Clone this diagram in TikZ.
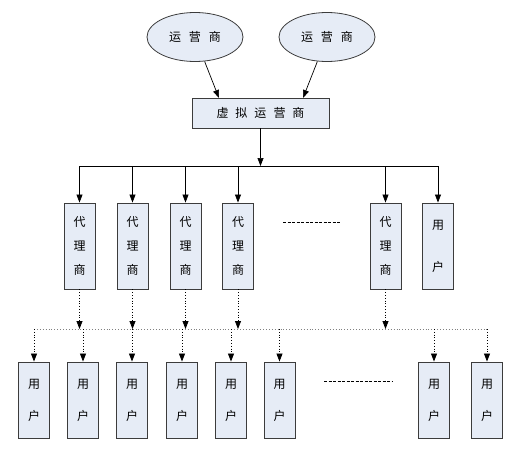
\documentclass[tikz,border=0pt]{standalone}
\usepackage{fontspec}
\setmainfont{Noto Sans CJK SC}
\usetikzlibrary{shapes.geometric,arrows.meta}
\definecolor{boxfill}{HTML}{E6ECF6}
\definecolor{boxdraw}{HTML}{3C3C3C}
\tikzset{
  opnode/.style={ellipse,draw=boxdraw,fill=boxfill,line width=0.8pt,minimum width=96pt,minimum height=49pt,inner sep=0pt,font=\fontsize{12}{14}\selectfont},
  vbox/.style={rectangle,draw=boxdraw,fill=boxfill,line width=0.9pt,minimum width=31pt,minimum height=86pt,inner sep=0pt,align=center,font=\fontsize{12}{14}\selectfont},
  ubox/.style={rectangle,draw=boxdraw,fill=boxfill,line width=0.9pt,minimum width=31pt,minimum height=76pt,inner sep=0pt,align=center,font=\fontsize{12}{14}\selectfont},
  hbox/.style={rectangle,draw=boxdraw,fill=boxfill,line width=0.9pt,minimum width=137pt,minimum height=30pt,inner sep=0pt,font=\fontsize{12}{14}\selectfont},
  solidarrow/.style={draw=black,line width=0.7pt,-{Triangle[length=8pt,width=6pt]}},
  solidline/.style={draw=black,line width=0.7pt},
  dotarrow/.style={draw=black,line width=0.8pt,dotted,-{Triangle[length=8pt,width=6pt]}},
  dotline/.style={draw=gray,line width=0.9pt,dotted},
  dashline/.style={draw=black,line width=0.7pt,dashed,dash pattern=on 3pt off 1.5pt},
}
\begin{document}
\begin{tikzpicture}[x=1pt,y=-1pt]
\useasboundingbox (0,0) rectangle (520,450);
% top
\node[opnode] (op1) at (195,37) {运\hspace{8pt}营\hspace{8pt}商};
\node[opnode] (op2) at (327,37) {运\hspace{8pt}营\hspace{8pt}商};
\node[hbox] (vop) at (260.5,113) {虚\hspace{7pt}拟\hspace{7pt}运\hspace{7pt}营\hspace{7pt}商};
\draw[solidarrow] (op1) -- (219,98);
\draw[solidarrow] (op2) -- (303,98);
% agents
\node[vbox] (a1) at (79.5,246) {代\\[10pt]理\\[10pt]商};
\node[vbox] (a2) at (132.5,246) {代\\[10pt]理\\[10pt]商};
\node[vbox] (a3) at (185.5,246) {代\\[10pt]理\\[10pt]商};
\node[vbox] (a4) at (238,246) {代\\[10pt]理\\[10pt]商};
\node[vbox] (a5) at (385.5,246) {代\\[10pt]理\\[10pt]商};
\node[vbox] (u0) at (438,246) {用\\[28pt]户};
% bus 1
\coordinate (b1) at (260.5,166);
\draw[solidarrow] (vop.south) -- (b1);
\draw[solidline] (a1.north |- b1) -- (u0.north |- b1);
\foreach \n in {a1,a2,a3,a4,a5,u0}{
  \draw[solidarrow] (\n.north |- b1) -- (\n.north);
}
\coordinate (d1a) at (283,222);
\coordinate (d1b) at (340,222);
\draw[dashline] (d1a) -- (d1b);
% users
\node[ubox] (u1) at (34,400) {用\\[18pt]户};
\node[ubox] (u2) at (83,400) {用\\[18pt]户};
\node[ubox] (u3) at (132,400) {用\\[18pt]户};
\node[ubox] (u4) at (182,400) {用\\[18pt]户};
\node[ubox] (u5) at (231,400) {用\\[18pt]户};
\node[ubox] (u6) at (279.5,400) {用\\[18pt]户};
\node[ubox] (u7) at (434,400) {用\\[18pt]户};
\node[ubox] (u8) at (487,400) {用\\[18pt]户};
% bus 2
\coordinate (b2) at (260,329);
\draw[dotline] (u1.north |- b2) -- (u8.north |- b2);
\foreach \n in {a1,a2,a3,a4,a5}{
  \draw[dotarrow] (\n.south) -- (\n.south |- b2);
}
\foreach \n in {u1,u2,u3,u4,u5,u6,u7,u8}{
  \draw[dotarrow] (\n.north |- b2) -- (\n.north);
}
\coordinate (d2a) at (324,381);
\coordinate (d2b) at (393,381);
\draw[dashline] (d2a) -- (d2b);
\end{tikzpicture}
\end{document}
